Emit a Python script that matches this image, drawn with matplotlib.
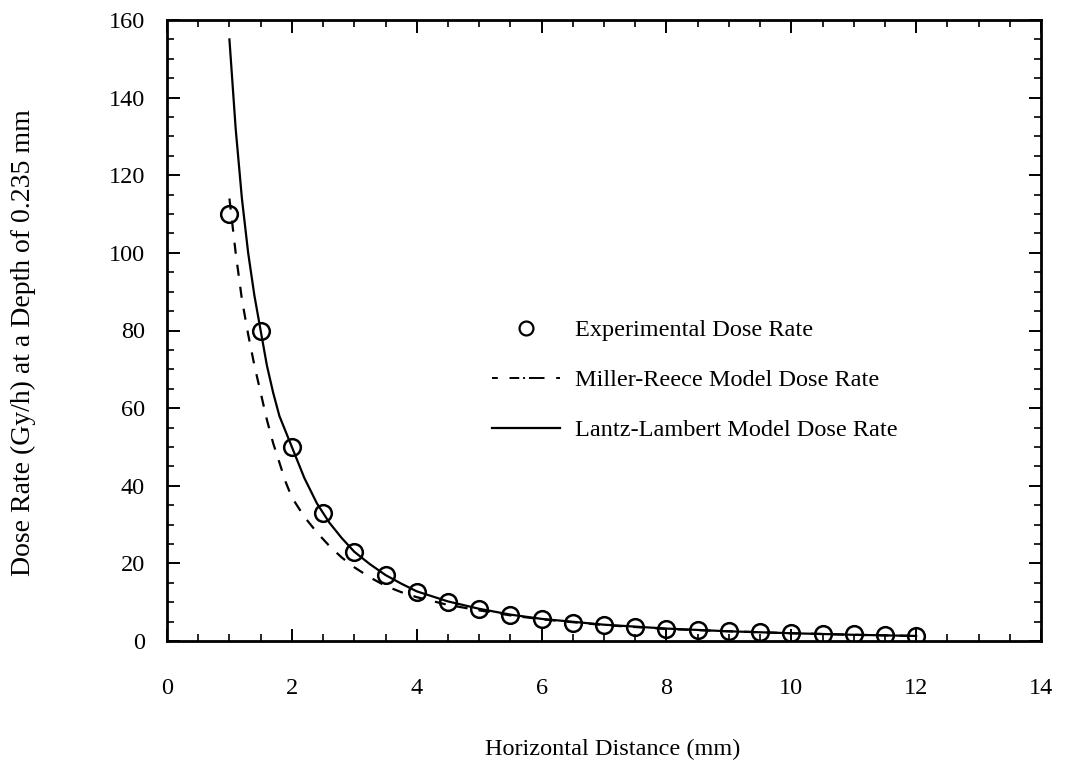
import matplotlib
matplotlib.use("Agg")
import matplotlib.pyplot as plt
from matplotlib.ticker import MultipleLocator
from matplotlib.lines import Line2D

plt.rcParams['font.family'] = ['Liberation Serif', 'DejaVu Serif']

# experimental points
exp_x = [1, 1.5, 2, 2.5, 3, 3.5, 4, 4.5, 5, 5.5, 6, 6.5, 7, 7.5, 8, 8.5, 9, 9.5, 10, 10.5, 11, 11.5, 12]
exp_y = [110, 80, 50, 33, 23, 17, 12.5, 10, 8.3, 6.6, 5.6, 4.7, 4.1, 3.5, 3.1, 2.8, 2.5, 2.2, 2.1, 1.8, 1.7, 1.5, 1.3]

# Miller-Reece model (dashed)
mr_x = [1, 1.1, 1.2, 1.3, 1.4, 1.5, 1.6, 1.7, 1.8, 1.9, 2, 2.2, 2.4, 2.6, 2.8, 3,
        3.25, 3.5, 3.75, 4, 4.5, 5, 5.5, 6, 7, 8, 9, 10, 11, 12]
mr_y = [114, 100, 88, 79, 71, 64, 57, 51, 46, 41, 37, 32, 28, 24.5, 21.5, 19,
        16.4, 14.2, 12.6, 11.3, 9.3, 7.9, 6.6, 5.6, 4.1, 3.1, 2.5, 2.0, 1.6, 1.3]

# Lantz-Lambert model (solid)
ll_x = [1, 1.1, 1.2, 1.3, 1.4, 1.5, 1.6, 1.7, 1.8, 1.9, 2, 2.2, 2.4, 2.6, 2.8, 3,
        3.25, 3.5, 3.75, 4, 4.5, 5, 5.5, 6, 7, 8, 9, 10, 11, 12]
ll_y = [155, 132, 114, 100, 89, 80, 71, 64, 58, 54, 50, 42, 35.5, 30.5, 26.5, 23,
        19.8, 17, 14.8, 12.8, 10.2, 8.3, 6.8, 5.7, 4.2, 3.2, 2.5, 2.0, 1.6, 1.3]

fig = plt.figure(figsize=(10.74, 7.62), dpi=100)
ax = fig.add_axes([167/1074, 1 - 641/762, 874/1074, 621/762])

ax.plot(exp_x, exp_y, 'o', mfc='none', mec='black', ms=12, mew=1.8, zorder=3)
ax.plot(mr_x, mr_y, color='black', lw=1.6, dashes=(5, 5))
ax.plot(ll_x, ll_y, color='black', lw=1.6)

ax.set_xlim(0, 14)
ax.set_ylim(0, 160)
ax.xaxis.set_major_locator(MultipleLocator(2))
ax.xaxis.set_minor_locator(MultipleLocator(0.5))
ax.yaxis.set_major_locator(MultipleLocator(20))
ax.yaxis.set_minor_locator(MultipleLocator(5))
ax.tick_params(which='both', direction='in', top=True, right=True, labelsize=17.5)
ax.tick_params(which='major', length=9, width=1.4)
ax.tick_params(which='minor', length=5, width=1.2)
ax.tick_params(axis='x', which='major', pad=27)
ax.tick_params(axis='y', which='major', pad=16)
for s in ax.spines.values():
    s.set_linewidth(2)

ax.set_xlabel('Horizontal Distance (mm)', fontsize=17.5)
ax.xaxis.set_label_coords(0.51, -0.157)
ax.set_ylabel('Dose Rate (Gy/h) at a Depth of 0.235 mm', fontsize=20)
ax.yaxis.set_label_coords(-0.15, 0.48)

handles = [
    Line2D([], [], ls='none', marker='o', mfc='none', mec='black', ms=10, mew=1.6),
    Line2D([], [], color='black', lw=1.4, dashes=(3, 6, 5, 2, 1, 2, 5, 0)),
    Line2D([], [], color='black', lw=1.6),
]
labels = ['Experimental Dose Rate', 'Miller-Reece Model Dose Rate',
          'Lantz-Lambert Model Dose Rate']
ax.legend(handles, labels, loc='upper left', bbox_to_anchor=(0.372, 0.518),
          frameon=False, fontsize=17.5, handlelength=2.8, handletextpad=0.6,
          labelspacing=1.15, borderpad=0, borderaxespad=0)

fig.savefig('out.png', dpi=100)
